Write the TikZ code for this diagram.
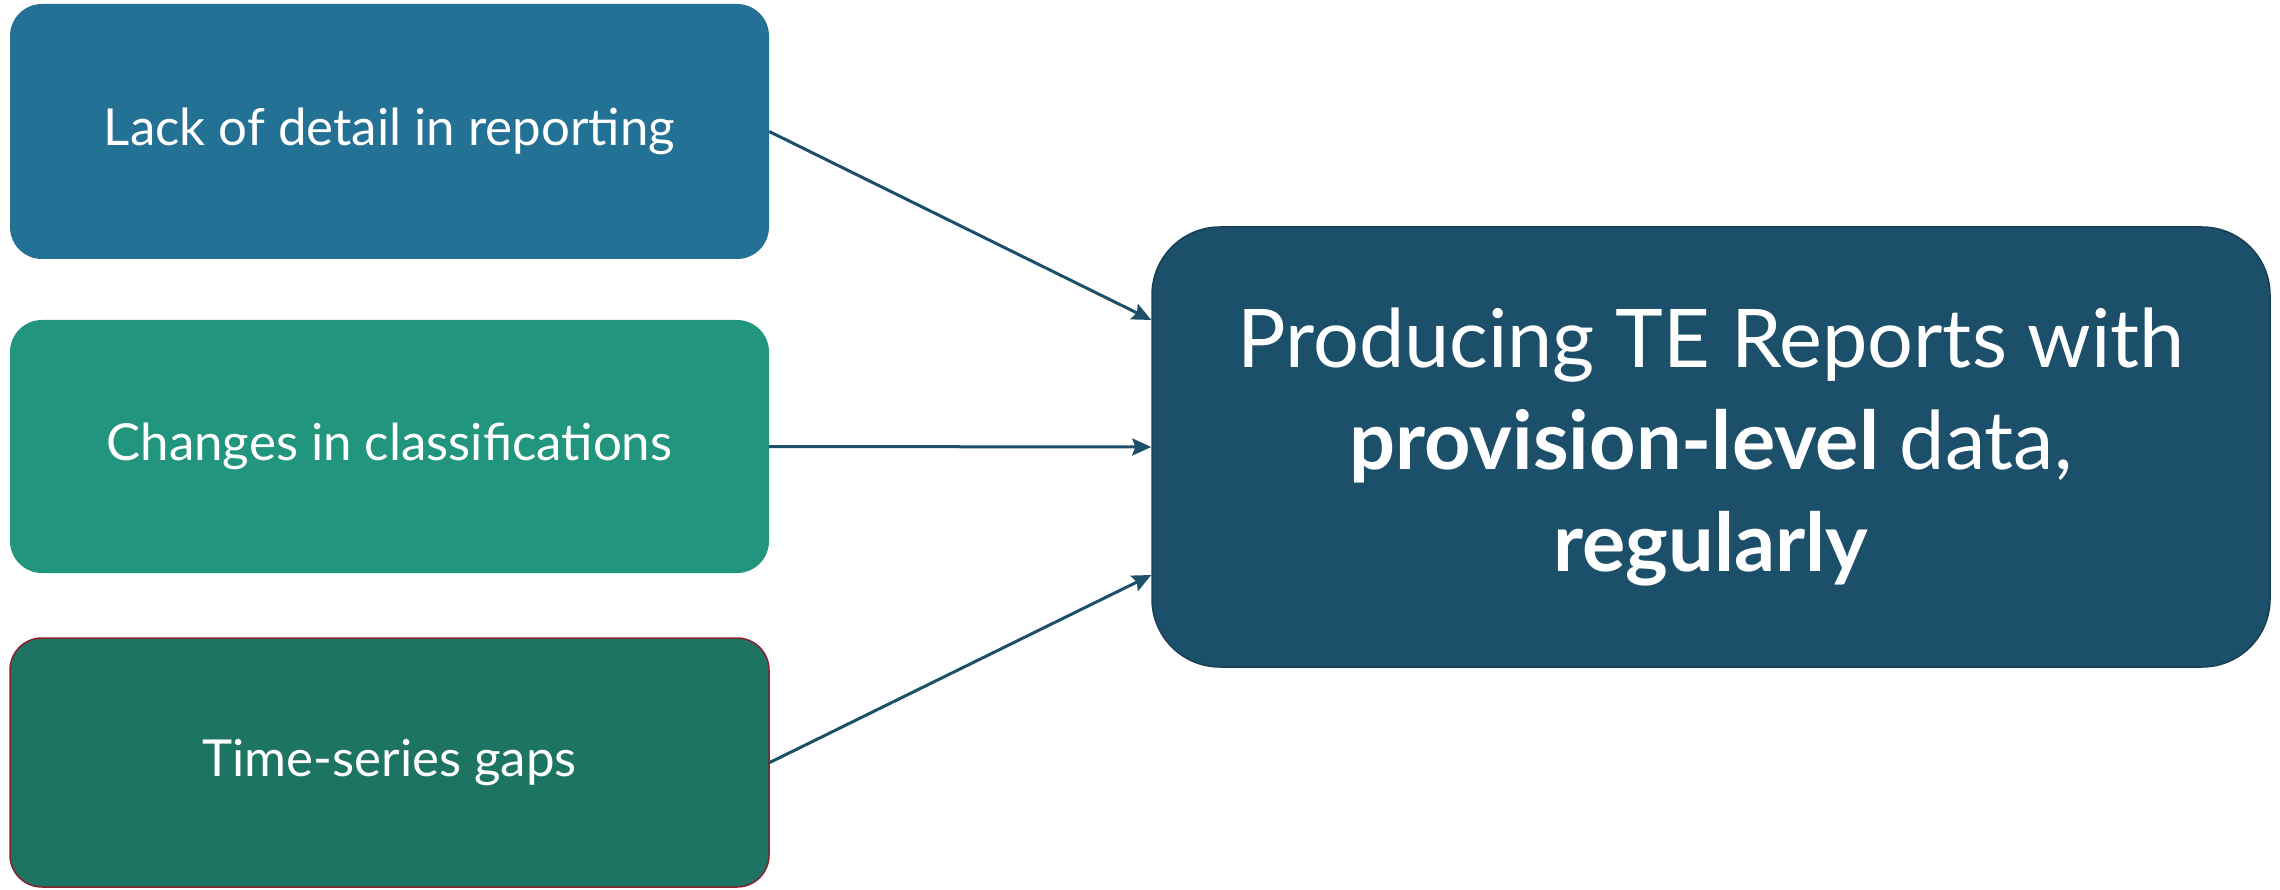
\documentclass[tikz,border=0pt]{standalone}
\usepackage{fontspec}
\setmainfont{Lato}
\usetikzlibrary{arrows.meta}
\definecolor{cA}{HTML}{237194}
\definecolor{cB}{HTML}{22957E}
\definecolor{cC}{HTML}{1D7463}
\definecolor{cBig}{HTML}{1B4F6A}
\definecolor{cBigEdge}{HTML}{173F55}
\definecolor{cRed}{HTML}{8A1F2E}
\definecolor{cArrow}{HTML}{1B4F6A}
\begin{document}
\begin{tikzpicture}[x=1pt,y=-1pt,
  smallbox/.style={rectangle, rounded corners=32pt, minimum width=759pt, text=white, inner sep=0pt,
    font=\fontsize{51}{62}\selectfont},
  bigbox/.style={rectangle, rounded corners=68pt, minimum width=1118pt, minimum height=440pt,
    fill=cBig, draw=cBigEdge, line width=1.5pt, text=white, align=center, inner sep=0pt,
    font=\fontsize{81}{102}\selectfont},
  conn/.style={draw=cArrow, line width=3pt, -{Stealth[length=19pt,width=17pt,inset=3pt]}}]
\useasboundingbox (0,0) rectangle (2280,890);
\fill[white] (0,0) rectangle (2280,890);
\node[smallbox, fill=cA, minimum height=255pt] (b1) at (389.5,131.5) {Lack of detail in reporting};
\node[smallbox, fill=cB, minimum height=253pt] (b2) at (389.5,446.5) {Changes in classifications};
\node[smallbox, fill=cC, draw=cRed, line width=1.5pt, minimum height=249pt] (b3) at (389.5,762.5) {Time-series gaps};
\node[bigbox] (big) at (1711,447) {Producing TE Reports with\\\textbf{provision-level} data,\\\textbf{regularly}};
\draw[conn] (b1.east) -- ([yshift=127pt]big.west);
\draw[conn] (b2.east) -- (big.west);
\draw[conn] (b3.east) -- ([yshift=-128pt]big.west);
\end{tikzpicture}
\end{document}
